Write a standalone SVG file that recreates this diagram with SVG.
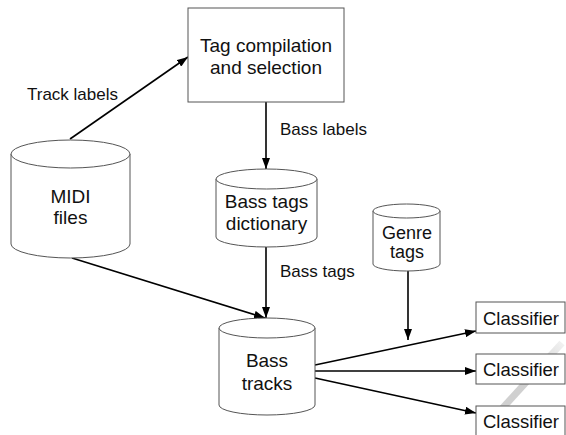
<svg xmlns="http://www.w3.org/2000/svg" width="566" height="435" viewBox="0 0 566 435">
<style>
.node{fill:#fff;stroke:#555;stroke-width:1}
.nt{font-family:"Liberation Sans",Arial,sans-serif;font-size:19px;fill:#111;text-anchor:middle}
.lbl{font-family:"Liberation Sans",Arial,sans-serif;font-size:17px;fill:#111}
.edge{stroke:#000;stroke-width:1.6;fill:none;marker-end:url(#arr)}
</style>
<defs>
<marker id="arr" markerUnits="userSpaceOnUse" markerWidth="11" markerHeight="8" refX="11" refY="4" orient="auto">
<path d="M0,0 L11,4 L0,8 z" fill="#000"/>
</marker>
<linearGradient id="wm" gradientUnits="userSpaceOnUse" x1="562" y1="343" x2="478" y2="435">
<stop offset="0" stop-color="#d0d0d0" stop-opacity="0.3"/>
<stop offset="0.3" stop-color="#d0d0d0" stop-opacity="1"/>
<stop offset="1" stop-color="#d0d0d0" stop-opacity="1"/>
</linearGradient>
</defs>
<rect width="566" height="435" fill="#fff"/>
<line x1="562" y1="343" x2="478" y2="435" stroke="url(#wm)" stroke-width="7"/>
<g id="connectors">
<line class="edge" x1="70" y1="139" x2="188" y2="57"/>
<line class="edge" x1="266" y1="102" x2="266" y2="169"/>
<line class="edge" x1="266" y1="247" x2="266" y2="318"/>
<line class="edge" x1="72" y1="258" x2="265" y2="318"/>
<line class="edge" x1="408" y1="271" x2="408" y2="340"/>
<line class="edge" x1="315" y1="365" x2="476" y2="331"/>
<line class="edge" x1="315" y1="371" x2="476" y2="371"/>
<line class="edge" x1="315" y1="378" x2="476" y2="413"/>
<text class="lbl" x="27" y="100">Track labels</text>
<text class="lbl" x="280" y="135">Bass labels</text>
<text class="lbl" x="280" y="277">Bass tags</text>
</g>
<g id="tag-compilation">
<rect class="node" x="188" y="8" width="156" height="94"/>
<text class="nt" x="266" y="52">Tag compilation</text>
<text class="nt" x="266" y="74">and selection</text>
</g>
<g id="midi-files">
<path class="node" d="M11,154 L11,244 A59.5,14 0 0 0 130,244 L130,154"/>
<ellipse class="node" cx="70.5" cy="154" rx="59.5" ry="14"/>
<text class="nt" x="70.5" y="203">MIDI</text>
<text class="nt" x="70.5" y="224">files</text>
</g>
<g id="bass-tags-dictionary">
<path class="node" d="M216,179 L216,237 A50.5,10 0 0 0 317,237 L317,179"/>
<ellipse class="node" cx="266.5" cy="179" rx="50.5" ry="10"/>
<text class="nt" x="266.5" y="208">Bass tags</text>
<text class="nt" x="266.5" y="230">dictionary</text>
</g>
<g id="bass-tracks">
<path class="node" d="M219,328 L219,405 A48,10 0 0 0 315,405 L315,328"/>
<ellipse class="node" cx="267" cy="328" rx="48" ry="10"/>
<text class="nt" x="267" y="367">Bass</text>
<text class="nt" x="267" y="390">tracks</text>
</g>
<g id="genre-tags">
<path class="node" d="M373,211 L373,264 A33.5,7 0 0 0 440,264 L440,211"/>
<ellipse class="node" cx="406.5" cy="211" rx="33.5" ry="7"/>
<text class="nt" x="407" y="239" style="font-size:18px">Genre</text>
<text class="nt" x="407" y="258" style="font-size:18px">tags</text>
</g>
<g id="classifier-1">
<rect class="node" x="476" y="302" width="89" height="31"/>
<text class="nt" x="521" y="325" style="font-size:18.5px">Classifier</text>
</g>
<g id="classifier-2">
<rect class="node" x="476" y="354" width="89" height="30"/>
<text class="nt" x="521" y="376" style="font-size:18.5px">Classifier</text>
</g>
<g id="classifier-3">
<rect class="node" x="476" y="406" width="89" height="35"/>
<text class="nt" x="521" y="428" style="font-size:18.5px">Classifier</text>
</g>
</svg>
